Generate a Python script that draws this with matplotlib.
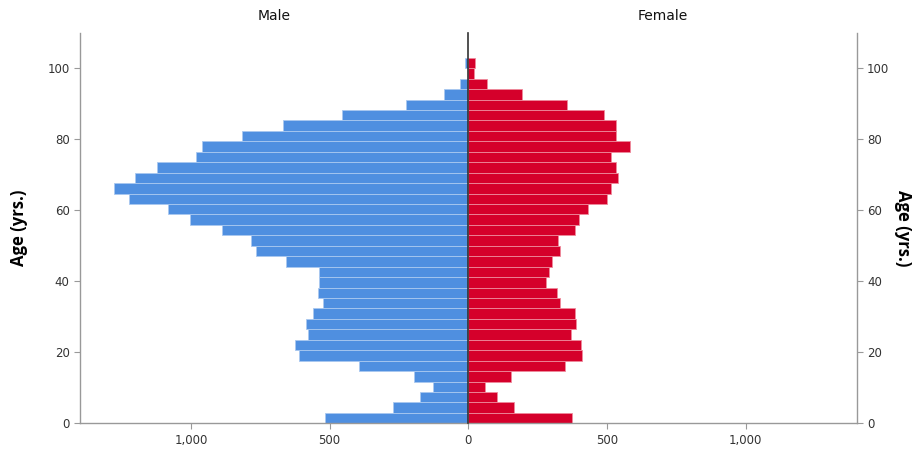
import numpy as np
import matplotlib.pyplot as plt
from matplotlib.ticker import FuncFormatter

# Counts per age bin (youngest first), read from the pyramid
male = [518, 270, 174, 128, 195, 394, 611, 626, 578, 587, 560, 524, 542, 540, 540,
        658, 765, 785, 888, 1002, 1084, 1222, 1279, 1203, 1121, 981, 959, 815, 668,
        455, 224, 86, 30, 0, 12]
female = [372, 166, 102, 60, 154, 348, 410, 405, 370, 387, 385, 330, 318, 279, 291,
          302, 332, 324, 386, 400, 432, 501, 516, 540, 534, 516, 582, 531, 534,
          489, 354, 194, 66, 20, 25]
max_age = 103  # upper edge of the oldest bin
age_ticks = [0, 20, 40, 60, 80, 100]
count_ticks = [0, 500, 1000]

bin_w = max_age / len(male)
age_lo = np.arange(len(male)) * bin_w

plt.rcParams['font.family'] = ['Liberation Sans Narrow', 'DejaVu Sans']
fig = plt.figure(figsize=(9.21, 4.53), dpi=100, facecolor='w')
axl = fig.add_axes([0.0869, 0.0656, 0.4216, 0.8616])
axr = fig.add_axes([0.5085, 0.0656, 0.4216, 0.8616])

axl.barh(age_lo, male, height=bin_w, align='edge', color='#4f8fe0',
         edgecolor='#a9c8f0', lw=0.6)
axr.barh(age_lo, female, height=bin_w, align='edge', color='#d5002b',
         edgecolor='#ee8a9c', lw=0.6)

fmt = FuncFormatter(lambda v, p: '{:,.0f}'.format(v))
for ax in (axl, axr):
    ax.set_ylim(0, 110)
    ax.set_xticks(count_ticks)
    ax.xaxis.set_major_formatter(fmt)
    ax.set_yticks(age_ticks)
    ax.tick_params(colors='#999999', labelcolor='#333333', labelsize=8.5, length=4)
    for s in ax.spines.values():
        s.set_color('#999999')
        s.set_linewidth(1)
    ax.spines['top'].set_visible(False)

axl.set_xlim(1400, 0)
axr.set_xlim(0, 1400)
axl.spines['right'].set_visible(False)
axr.spines['left'].set_visible(False)
# dark divider between the two halves
axr.axvline(0, color='#333333', lw=1.2, zorder=5, clip_on=False)
axr.tick_params(axis='y', left=False, labelleft=False, right=True, labelright=True)
axr.set_xticks(count_ticks[1:])

axl.set_title('Male', fontsize=10, color='#111111', pad=9)
axr.set_title('Female', fontsize=10, color='#111111', pad=9)
axl.set_ylabel('Age (yrs.)', fontsize=12, fontweight='bold', family='Open Sans', labelpad=14)
axr.yaxis.set_label_position('right')
axr.set_ylabel('Age (yrs.)', fontsize=12, fontweight='bold', family='Open Sans',
               rotation=270, labelpad=16)

fig.savefig('out.png', dpi=100)
